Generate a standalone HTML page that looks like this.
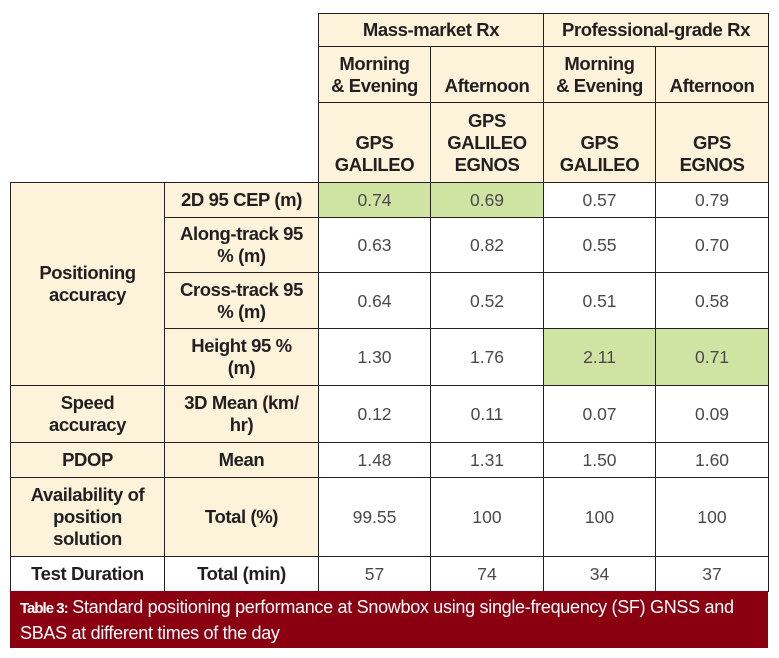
<!DOCTYPE html><html><head><style>
body{margin:0;width:779px;height:658px;background:#fff;position:relative;overflow:hidden;font-family:"Liberation Sans",sans-serif;}
.c{position:absolute;box-sizing:border-box;border:1px solid #231f20;display:flex;align-items:center;justify-content:center;text-align:center;color:#231f20;line-height:22px;}
.h{background:#fdf2da;font-weight:bold;font-size:18.5px;letter-spacing:-0.4px;}
.v{background:#fff;font-size:17.5px;color:#4a4a4a;}
.g{background:#cfe3a3;}
.cap{position:absolute;left:10px;top:591px;width:758px;height:57px;background:#8b0010;color:#fff;font-size:18px;line-height:24px;padding:4px 10px;box-sizing:border-box;letter-spacing:-0.3px;}
</style></head><body>
<div class="c h" style="left:318px;top:13px;width:226px;height:34px">Mass-market Rx</div>
<div class="c h" style="left:543px;top:13px;width:226px;height:34px">Professional-grade Rx</div>
<div class="c h" style="left:318px;top:46px;width:113px;height:57px">Morning<br>&amp; Evening</div>
<div class="c h" style="left:430px;top:46px;width:114px;height:57px;padding-top:22px">Afternoon</div>
<div class="c h" style="left:543px;top:46px;width:113px;height:57px">Morning<br>&amp; Evening</div>
<div class="c h" style="left:655px;top:46px;width:114px;height:57px;padding-top:22px">Afternoon</div>
<div class="c h" style="left:318px;top:102px;width:113px;height:81px;padding-top:22px">GPS<br>GALILEO</div>
<div class="c h" style="left:430px;top:102px;width:114px;height:81px">GPS<br>GALILEO<br>EGNOS</div>
<div class="c h" style="left:543px;top:102px;width:113px;height:81px;padding-top:22px">GPS<br>GALILEO</div>
<div class="c h" style="left:655px;top:102px;width:114px;height:81px;padding-top:22px">GPS<br>EGNOS</div>

<div class="c h" style="left:10px;top:182px;width:155px;height:204px">Positioning<br>accuracy</div>
<div class="c h" style="left:164px;top:182px;width:155px;height:36px">2D 95 CEP (m)</div>
<div class="c h" style="left:164px;top:217px;width:155px;height:56px">Along-track 95<br>% (m)</div>
<div class="c h" style="left:164px;top:272px;width:155px;height:57px">Cross-track 95<br>% (m)</div>
<div class="c h" style="left:164px;top:328px;width:155px;height:58px">Height 95 %<br>(m)</div>
<div class="c h" style="left:10px;top:385px;width:155px;height:58px">Speed<br>accuracy</div>
<div class="c h" style="left:164px;top:385px;width:155px;height:58px">3D Mean (km/<br>hr)</div>
<div class="c h" style="left:10px;top:442px;width:155px;height:36px">PDOP</div>
<div class="c h" style="left:164px;top:442px;width:155px;height:36px">Mean</div>
<div class="c h" style="left:10px;top:477px;width:155px;height:80px">Availability of<br>position<br>solution</div>
<div class="c h" style="left:164px;top:477px;width:155px;height:80px">Total (%)</div>
<div class="c h" style="left:10px;top:556px;width:155px;height:36px;background:#fff">Test Duration</div>
<div class="c h" style="left:164px;top:556px;width:155px;height:36px;background:#fff">Total (min)</div>

<div class="c v g" style="left:318px;top:182px;width:113px;height:36px">0.74</div>
<div class="c v g" style="left:430px;top:182px;width:114px;height:36px">0.69</div>
<div class="c v" style="left:543px;top:182px;width:113px;height:36px">0.57</div>
<div class="c v" style="left:655px;top:182px;width:114px;height:36px">0.79</div>

<div class="c v" style="left:318px;top:217px;width:113px;height:56px">0.63</div>
<div class="c v" style="left:430px;top:217px;width:114px;height:56px">0.82</div>
<div class="c v" style="left:543px;top:217px;width:113px;height:56px">0.55</div>
<div class="c v" style="left:655px;top:217px;width:114px;height:56px">0.70</div>

<div class="c v" style="left:318px;top:272px;width:113px;height:57px">0.64</div>
<div class="c v" style="left:430px;top:272px;width:114px;height:57px">0.52</div>
<div class="c v" style="left:543px;top:272px;width:113px;height:57px">0.51</div>
<div class="c v" style="left:655px;top:272px;width:114px;height:57px">0.58</div>

<div class="c v" style="left:318px;top:328px;width:113px;height:58px">1.30</div>
<div class="c v" style="left:430px;top:328px;width:114px;height:58px">1.76</div>
<div class="c v g" style="left:543px;top:328px;width:113px;height:58px">2.11</div>
<div class="c v g" style="left:655px;top:328px;width:114px;height:58px">0.71</div>

<div class="c v" style="left:318px;top:385px;width:113px;height:58px">0.12</div>
<div class="c v" style="left:430px;top:385px;width:114px;height:58px">0.11</div>
<div class="c v" style="left:543px;top:385px;width:113px;height:58px">0.07</div>
<div class="c v" style="left:655px;top:385px;width:114px;height:58px">0.09</div>

<div class="c v" style="left:318px;top:442px;width:113px;height:36px">1.48</div>
<div class="c v" style="left:430px;top:442px;width:114px;height:36px">1.31</div>
<div class="c v" style="left:543px;top:442px;width:113px;height:36px">1.50</div>
<div class="c v" style="left:655px;top:442px;width:114px;height:36px">1.60</div>

<div class="c v" style="left:318px;top:477px;width:113px;height:80px">99.55</div>
<div class="c v" style="left:430px;top:477px;width:114px;height:80px">100</div>
<div class="c v" style="left:543px;top:477px;width:113px;height:80px">100</div>
<div class="c v" style="left:655px;top:477px;width:114px;height:80px">100</div>

<div class="c v" style="left:318px;top:556px;width:113px;height:36px">57</div>
<div class="c v" style="left:430px;top:556px;width:114px;height:36px">74</div>
<div class="c v" style="left:543px;top:556px;width:113px;height:36px">34</div>
<div class="c v" style="left:655px;top:556px;width:114px;height:36px">37</div>

<div class="cap"><span style="font-size:15px;font-weight:bold;letter-spacing:-1px">Table 3:</span> Standard positioning performance at Snowbox using single-frequency (SF) GNSS and<br>SBAS at different times of the day</div>
</body></html>
